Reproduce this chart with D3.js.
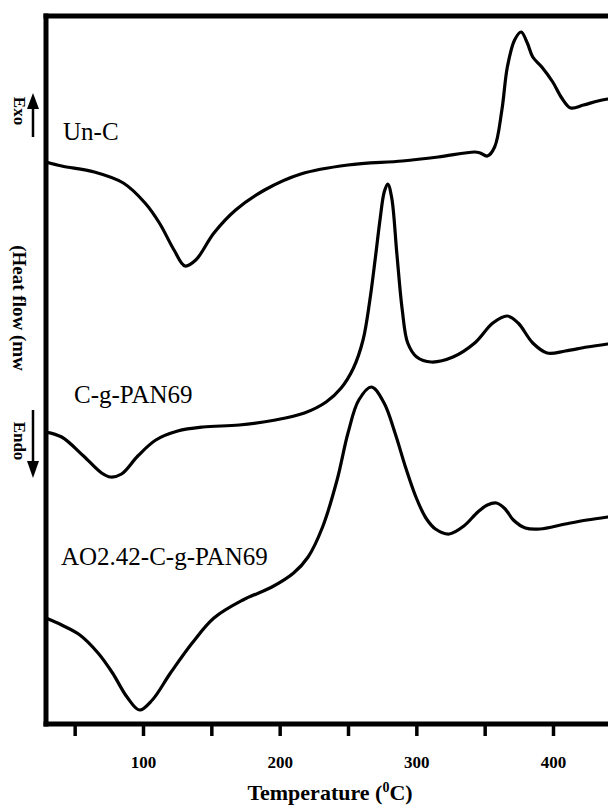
<!DOCTYPE html>
<html>
<head>
<meta charset="utf-8">
<script src="https://cdn.jsdelivr.net/npm/d3@7"></script>
<style>
  html, body { margin: 0; padding: 0; background: #fff; }
  svg { display: block; }
</style>
</head>
<body>
<svg id="chart" width="608" height="809"></svg>
<script>
// ---- Data (temperature °C, heat flow in arbitrary units, exo up) ----
const unC_T = [29, 40.5, 64.4, 85.6, 101.5, 112, 122.7, 130.7, 138.6, 151.9, 167.8, 189, 215.5, 250, 289.7, 316, 342.7, 346.7, 352, 357.3, 362.6, 366.6, 371.9, 376.7, 381.2, 385.2, 391.8, 399.8, 406.4, 413, 422.3, 432.9, 440];
const unC_V = [56.2, 55.8, 55.2, 54.1, 52.1, 50.1, 47.4, 45.8, 46.4, 49.1, 51.4, 53.4, 55.0, 55.9, 56.3, 56.7, 57.2, 57.1, 56.8, 57.7, 61.4, 65.7, 68.4, 69.2, 68.1, 66.7, 65.7, 64.2, 62.6, 61.6, 61.9, 62.3, 62.5];

const cgPAN_T = [29, 40.5, 56.5, 69.7, 76.3, 84.3, 96.2, 109.4, 125.4, 143.9, 170.4, 196.9, 218.1, 234, 245, 254, 261, 266, 270, 273.5, 276.5, 279.1, 282, 285.7, 289.7, 293.7, 300.3, 310.9, 326.8, 342.7, 356, 366.6, 374.5, 385.2, 395.7, 409, 424.9, 440];
const cgPAN_V = [29.2, 28.7, 26.8, 25.1, 24.7, 25.0, 26.8, 28.4, 29.3, 29.7, 29.9, 30.4, 31.1, 32.2, 33.6, 35.6, 38.4, 42.4, 46.6, 50.5, 53.2, 54.0, 52.6, 47.1, 41.4, 38.1, 36.7, 36.2, 36.7, 38.1, 40.1, 40.8, 40.1, 38.1, 37.1, 37.3, 37.7, 38.0];

const ao_T = [29, 40.5, 53.8, 67.1, 77.7, 88.3, 97.5, 106.8, 120.1, 136, 151.9, 173.1, 194.3, 210.2, 220.8, 231.4, 242, 250, 257.9, 267.2, 276.4, 284.4, 292.3, 300, 307, 314, 324.1, 334.8, 345, 352, 358.6, 365, 371, 379.8, 390.4, 409, 424.9, 440];
const ao_V = [10.6, 9.9, 8.9, 7.1, 5.1, 2.7, 1.4, 2.4, 5.1, 8.1, 10.6, 12.4, 13.7, 15.1, 16.7, 19.7, 24.4, 29.1, 32.4, 33.7, 32.1, 29.1, 25.6, 22.6, 20.6, 19.5, 19.0, 19.8, 21.2, 21.9, 22.1, 21.5, 20.4, 19.6, 19.5, 20.0, 20.4, 20.7];

const seriesNames = ["Un-C", "C-g-PAN69", "AO2.42-C-g-PAN69"];
const tickValues = [50, 100, 150, 200, 250, 300, 350, 400];
const tickLabels = ["", "100", "", "200", "", "300", "", "400"];

// ---- Layout ----
const svg = d3.select("#chart");
const x = d3.scaleLinear().domain([100, 400]).range([143, 553]);
const y = d3.scaleLinear().domain([0, 70.8]).range([724, 16]);
const xLeft = 46, yTop = 16, yBottom = 724, xRight = 608;
const serif = "'Liberation Serif', 'Times New Roman', serif";

svg.append("defs").append("clipPath").attr("id", "plot")
  .append("rect").attr("x", xLeft).attr("y", yTop).attr("width", xRight - xLeft).attr("height", yBottom - yTop);

const line = d3.line().x(d => x(d[0])).y(d => y(d[1])).curve(d3.curveCatmullRom.alpha(0.5));

const series = [
  d3.zip(unC_T, unC_V),
  d3.zip(cgPAN_T, cgPAN_V),
  d3.zip(ao_T, ao_V)
];

svg.append("g").attr("clip-path", "url(#plot)")
  .selectAll("path").data(series).join("path")
  .attr("d", line)
  .attr("fill", "none")
  .attr("stroke", "#000")
  .attr("stroke-width", 3.2)
  .attr("stroke-linejoin", "round")
  .attr("stroke-linecap", "round");

// ---- Frame ----
svg.append("line").attr("x1", xLeft - 2.5).attr("x2", xRight).attr("y1", yTop).attr("y2", yTop)
  .attr("stroke", "#000").attr("stroke-width", 5);
svg.append("line").attr("x1", xLeft).attr("x2", xLeft).attr("y1", yTop - 2.5).attr("y2", yBottom + 2.5)
  .attr("stroke", "#000").attr("stroke-width", 5);

// ---- X axis ----
const xAxis = d3.axisBottom(x)
  .tickValues(tickValues)
  .tickSize(12)
  .tickPadding(20)
  .tickFormat((d, i) => tickLabels[i]);

const gx = svg.append("g").attr("transform", `translate(0,${yBottom})`).call(xAxis);
gx.select(".domain").remove();
gx.selectAll(".tick line").attr("stroke", "#000").attr("stroke-width", 3.5);
gx.selectAll(".tick text")
  .attr("fill", "#000")
  .style("font-family", serif)
  .style("font-weight", "bold")
  .style("font-size", "17px");
svg.append("line").attr("x1", xLeft - 2.5).attr("x2", xRight).attr("y1", yBottom).attr("y2", yBottom)
  .attr("stroke", "#000").attr("stroke-width", 5);

// Axis title
const title = svg.append("text")
  .attr("x", 330).attr("y", 800)
  .attr("text-anchor", "middle")
  .style("font-family", serif)
  .style("font-weight", "bold")
  .style("font-size", "22px")
  .attr("fill", "#000");
title.append("tspan").text("Temperature (");
title.append("tspan").attr("dy", -8).style("font-size", "14px").text("0");
title.append("tspan").attr("dy", 8).text("C)");

// ---- Y axis annotation ----
function vText(txt, cx, cy, size) {
  svg.append("text")
    .attr("transform", `translate(${cx},${cy}) rotate(90)`)
    .attr("text-anchor", "middle")
    .attr("dominant-baseline", "central")
    .style("font-family", serif)
    .style("font-weight", "bold")
    .style("font-size", size + "px")
    .attr("fill", "#000")
    .text(txt);
}
vText("Exo", 19, 111, 17);
vText("(Heat flow (mw", 19, 308, 19);
vText("Endo", 19, 441, 17);

// arrows
const ax = 33;
svg.append("line").attr("x1", ax).attr("x2", ax).attr("y1", 137).attr("y2", 105).attr("stroke", "#000").attr("stroke-width", 2.5);
svg.append("path").attr("d", `M${ax},93 L${ax - 6},109 L${ax + 6},109 Z`).attr("fill", "#000");
svg.append("line").attr("x1", ax).attr("x2", ax).attr("y1", 410).attr("y2", 463).attr("stroke", "#000").attr("stroke-width", 2.5);
svg.append("path").attr("d", `M${ax},478 L${ax - 6},461 L${ax + 6},461 Z`).attr("fill", "#000");

// ---- Curve labels ----
const labelPos = [[63, 140], [74, 403], [61, 565]];
svg.selectAll("text.series-label").data(seriesNames).join("text")
  .attr("class", "series-label")
  .attr("x", (d, i) => labelPos[i][0])
  .attr("y", (d, i) => labelPos[i][1])
  .style("font-family", serif)
  .style("font-size", "25px")
  .attr("fill", "#000")
  .text(d => d);
</script>
</body>
</html>
